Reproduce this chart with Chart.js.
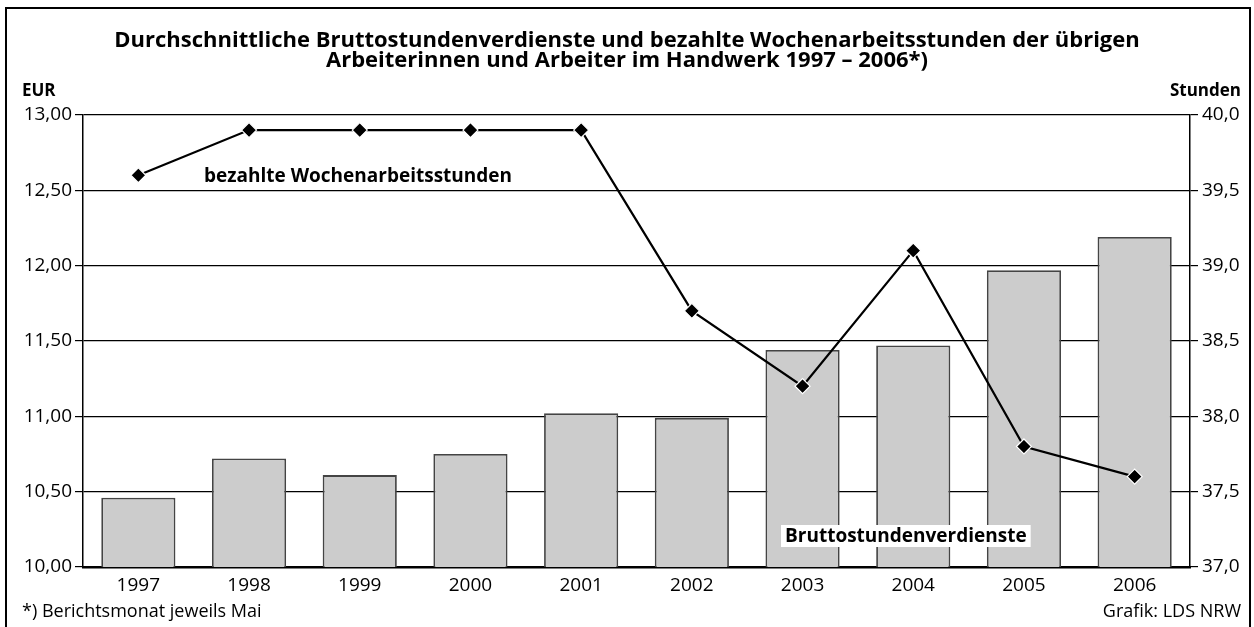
<!DOCTYPE html>
<html>
<head>
<meta charset="utf-8">
<script src="https://cdn.jsdelivr.net/npm/chart.js@4.4.1/dist/chart.umd.min.js"></script>
<style>
  html, body { margin: 0; padding: 0; background: #fff; }
  canvas { display: block; }
</style>
</head>
<body>
<canvas id="chart" width="1254" height="627"></canvas>
<script>
const years = ["1997", "1998", "1999", "2000", "2001", "2002", "2003", "2004", "2005", "2006"];
const verdienste = [10.46, 10.72, 10.61, 10.75, 11.02, 10.99, 11.44, 11.47, 11.97, 12.19];
const stunden = [39.6, 39.9, 39.9, 39.9, 39.9, 38.7, 38.2, 39.1, 37.8, 37.6];

const titleLines = [
    "Durchschnittliche Bruttostundenverdienste und bezahlte Wochenarbeitsstunden der übrigen",
    "Arbeiterinnen und Arbeiter im Handwerk 1997 – 2006*)"
];
const leftUnit = "EUR";
const rightUnit = "Stunden";
const footLeft = "*) Berichtsmonat jeweils Mai";
const footRight = "Grafik: LDS NRW";
const lineLabel = "bezahlte Wochenarbeitsstunden";
const barLabel = "Bruttostundenverdienste";

const FONT = "'Open Sans', 'DejaVu Sans', sans-serif";

const decorations = {
    id: "decorations",
    afterDraw(chart) {
        const ctx = chart.ctx;
        ctx.save();

        // outer frame
        ctx.strokeStyle = "#000";
        ctx.lineWidth = 2;
        ctx.strokeRect(6, 8, 1244, 700);

        ctx.fillStyle = "#000";
        ctx.textBaseline = "middle";

        // title
        ctx.font = "bold 22px " + FONT;
        ctx.textAlign = "center";
        ctx.fillText(titleLines[0], 627, 41);
        ctx.fillText(titleLines[1], 627, 61);

        // axis units
        ctx.font = "bold 17px " + FONT;
        ctx.textAlign = "left";
        ctx.fillText(leftUnit, 22, 91);
        ctx.textAlign = "right";
        ctx.fillText(rightUnit, 1241, 91);

        // footer
        ctx.font = "18px " + FONT;
        ctx.textAlign = "left";
        ctx.fillText(footLeft, 22, 612);
        ctx.textAlign = "right";
        ctx.fillText(footRight, 1241, 612);

        // series labels
        ctx.font = "bold 19px " + FONT;
        ctx.textAlign = "left";
        ctx.fillText(lineLabel, 204, 177);

        const w = ctx.measureText(barLabel).width;
        ctx.fillStyle = "#fff";
        ctx.fillRect(781, 525, w + 8, 22);
        ctx.fillStyle = "#000";
        ctx.fillText(barLabel, 785, 537);

        ctx.restore();
    }
};

const canvas = document.getElementById("chart");
const ctx = canvas.getContext("2d");

new Chart(ctx, {
    type: "bar",
    data: {
        labels: years,
        datasets: [
            {
                type: "line",
                label: "bezahlte Wochenarbeitsstunden",
                data: stunden,
                yAxisID: "y1",
                order: 1,
                borderColor: "#000",
                borderWidth: 2.2,
                pointStyle: "rectRot",
                pointRadius: 7.5,
                pointBackgroundColor: "#000",
                pointBorderColor: "#fff",
                pointBorderWidth: 1.2,
                tension: 0
            },
            {
                type: "bar",
                label: "Bruttostundenverdienste",
                data: verdienste,
                yAxisID: "y",
                order: 2,
                backgroundColor: "#cccccc",
                borderColor: "#444444",
                borderWidth: 1.8,
                barPercentage: 0.67,
                categoryPercentage: 1.0
            }
        ]
    },
    options: {
        responsive: false,
        animation: false,
        devicePixelRatio: 1,
        layout: { padding: { top: 115, left: 0, right: 0, bottom: 0 } },
        plugins: {
            legend: { display: false },
            tooltip: { enabled: false },
            title: { display: false }
        },
        scales: {
            x: {
                grid: { display: false, drawTicks: false },
                border: { display: true, color: "#000", width: 2.5 },
                ticks: { color: "#000", font: { family: FONT, size: 19 }, padding: 7, maxRotation: 0 },
                afterFit(scale) { scale.height = 60; }
            },
            y: {
                position: "left",
                min: 10,
                max: 13,
                grid: { color: "#000", lineWidth: 1.2, tickLength: 8 },
                border: { display: true, color: "#000", width: 1.5 },
                ticks: {
                    stepSize: 0.5,
                    color: "#000",
                    padding: 3,
                    font: { family: FONT, size: 19 },
                    callback: v => v.toFixed(2).replace(".", ",")
                },
                afterFit(scale) { scale.width = 83; }
            },
            y1: {
                position: "right",
                min: 37,
                max: 40,
                grid: { drawOnChartArea: false, color: "#000", lineWidth: 1.2, tickLength: 8 },
                border: { display: true, color: "#000", width: 1.5 },
                ticks: {
                    stepSize: 0.5,
                    color: "#000",
                    padding: 4,
                    font: { family: FONT, size: 19 },
                    callback: v => v.toFixed(1).replace(".", ",")
                },
                afterFit(scale) { scale.width = 64; }
            }
        }
    },
    plugins: [decorations]
});
</script>
</body>
</html>
